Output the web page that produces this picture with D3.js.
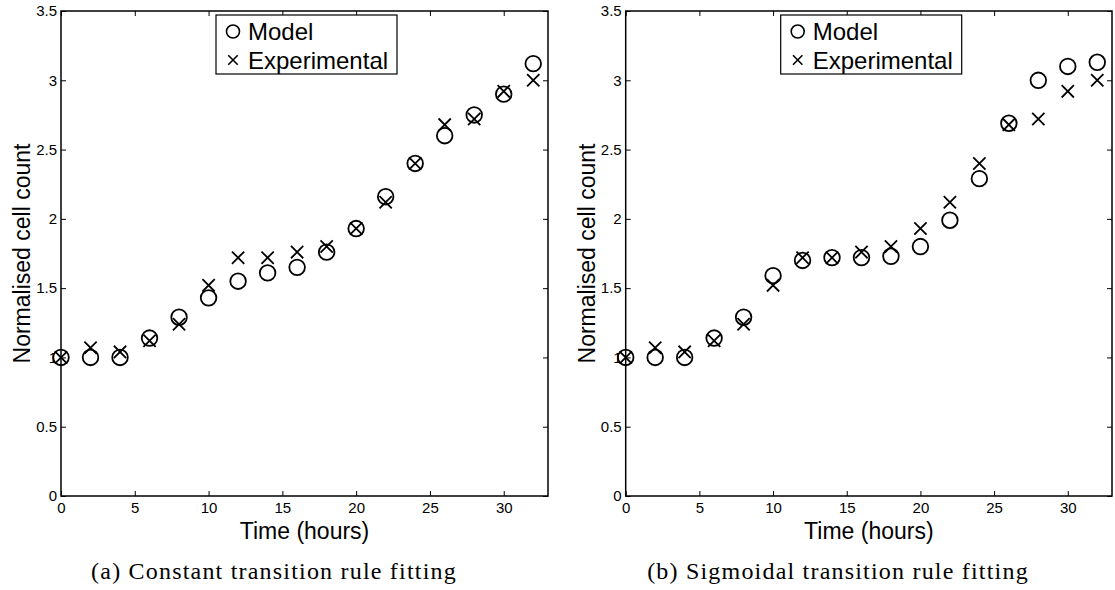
<!DOCTYPE html>
<html>
<head>
<meta charset="utf-8">
<script src="https://cdn.jsdelivr.net/npm/d3@7"></script>
<style>
  body { margin: 0; background: #fff; }
  svg text { fill: #000; }
</style>
</head>
<body>
<div id="chart"></div>
<script>
/* DATA */
const hours = [0, 2, 4, 6, 8, 10, 12, 14, 16, 18, 20, 22, 24, 26, 28, 30, 32];
const experimental = [1.0, 1.07, 1.04, 1.12, 1.24, 1.52, 1.72, 1.72, 1.76, 1.80, 1.93, 2.12, 2.40, 2.68, 2.72, 2.92, 3.0];
const modelConstant = [1.0, 1.0, 1.0, 1.14, 1.29, 1.43, 1.55, 1.61, 1.65, 1.76, 1.93, 2.16, 2.40, 2.60, 2.75, 2.90, 3.12];
const modelSigmoidal = [1.0, 1.0, 1.0, 1.14, 1.29, 1.59, 1.70, 1.72, 1.72, 1.73, 1.80, 1.99, 2.29, 2.69, 3.0, 3.10, 3.13];
const xTicks = [0, 5, 10, 15, 20, 25, 30];
const yTicks = [0, 0.5, 1, 1.5, 2, 2.5, 3, 3.5];
const legendLabels = ["Model", "Experimental"];
const captions = ["(a) Constant transition rule fitting", "(b) Sigmoidal transition rule fitting"];

/* CONSTANTS */
const width = 1115, height = 590;
const sans = "'Liberation Sans', Arial, Helvetica, sans-serif";
const serif = "'Liberation Serif', 'DejaVu Serif', serif";

const svg = d3.select("#chart")
  .append("svg")
  .attr("width", width)
  .attr("height", height);

// both panels share the y scale
const yScale = d3.scaleLinear().domain([0, 3.5]).range([496, 11]);

const panels = [
  { left: 61, right: 548, model: modelConstant, caption: captions[0], capX: 274 },
  { left: 625.7, right: 1112, model: modelSigmoidal, caption: captions[1], capX: 838 }
];

panels.forEach(p => {
  const xScale = d3.scaleLinear().domain([0, 33]).range([p.left, p.right]);
  const g = svg.append("g");

  // inward ticks on all four sides, like the original
  const xAxis = d3.axisBottom(xScale).tickValues(xTicks).tickSizeInner(-5).tickSizeOuter(0).tickPadding(6);
  const xTop = d3.axisTop(xScale).tickValues(xTicks).tickSizeInner(-5).tickSizeOuter(0).tickFormat("");
  const yAxis = d3.axisLeft(yScale).tickValues(yTicks).tickSizeInner(-5).tickSizeOuter(0).tickPadding(4)
    .tickFormat(d => d3.format("")(d));
  const yRight = d3.axisRight(yScale).tickValues(yTicks).tickSizeInner(-5).tickSizeOuter(0).tickFormat("");

  [
    g.append("g").attr("transform", `translate(0,${yScale(0)})`).call(xAxis),
    g.append("g").attr("transform", `translate(0,${yScale(3.5)})`).call(xTop),
    g.append("g").attr("transform", `translate(${p.left},0)`).call(yAxis),
    g.append("g").attr("transform", `translate(${p.right},0)`).call(yRight)
  ].forEach(a => {
    a.select(".domain").remove();
    a.selectAll("line").attr("stroke", "#000").attr("stroke-width", 1);
    a.selectAll("text").style("font-family", sans).style("font-size", "15px").attr("fill", "#000");
  });

  // frame
  g.append("rect")
    .attr("x", p.left).attr("y", yScale(3.5))
    .attr("width", p.right - p.left).attr("height", yScale(0) - yScale(3.5))
    .attr("fill", "none").attr("stroke", "#000").attr("stroke-width", 1.5);

  // axis labels
  g.append("text")
    .attr("x", (p.left + p.right) / 2).attr("y", 539)
    .attr("text-anchor", "middle")
    .style("font-family", sans).style("font-size", "23px")
    .text("Time (hours)");

  g.append("text")
    .attr("transform", `translate(${p.left - 31},${(yScale(0) + yScale(3.5)) / 2}) rotate(-90)`)
    .attr("text-anchor", "middle")
    .style("font-family", sans).style("font-size", "23px")
    .text("Normalised cell count");

  // model circles
  g.selectAll(".model")
    .data(hours.map((h, i) => ({ h, v: p.model[i] })))
    .join("circle")
    .attr("class", "model")
    .attr("cx", d => xScale(d.h))
    .attr("cy", d => yScale(d.v))
    .attr("r", 7.8)
    .attr("fill", "none").attr("stroke", "#000").attr("stroke-width", 1.8);

  // experimental crosses
  const cross = d3.symbol().type(d3.symbolX).size(100);
  g.selectAll(".exp")
    .data(hours.map((h, i) => ({ h, v: experimental[i] })))
    .join("path")
    .attr("class", "exp")
    .attr("transform", d => `translate(${xScale(d.h)},${yScale(d.v)})`)
    .attr("d", cross)
    .attr("fill", "none").attr("stroke", "#000").attr("stroke-width", 1.8);

  // legend
  const lx = p.left + 155, ly = 15;
  const leg = g.append("g").attr("transform", `translate(${lx},${ly})`);
  leg.append("rect")
    .attr("width", 181).attr("height", 59)
    .attr("fill", "#fff").attr("stroke", "#000").attr("stroke-width", 1.2);
  leg.append("circle")
    .attr("cx", 17).attr("cy", 16.5).attr("r", 6.5)
    .attr("fill", "none").attr("stroke", "#000").attr("stroke-width", 1.6);
  leg.append("path")
    .attr("transform", "translate(17,45)")
    .attr("d", d3.symbol().type(d3.symbolX).size(60))
    .attr("fill", "none").attr("stroke", "#000").attr("stroke-width", 1.6);
  leg.selectAll(".leglabel")
    .data(legendLabels)
    .join("text")
    .attr("class", "leglabel")
    .attr("x", 32)
    .attr("y", (d, i) => 25 + i * 28.5)
    .style("font-family", sans).style("font-size", "24px")
    .text(d => d);

  // caption
  svg.append("text")
    .attr("x", p.capX).attr("y", 579)
    .attr("text-anchor", "middle")
    .style("font-family", serif).style("font-size", "24px")
    .style("letter-spacing", "1.2px")
    .text(p.caption);
});
</script>
</body>
</html>
